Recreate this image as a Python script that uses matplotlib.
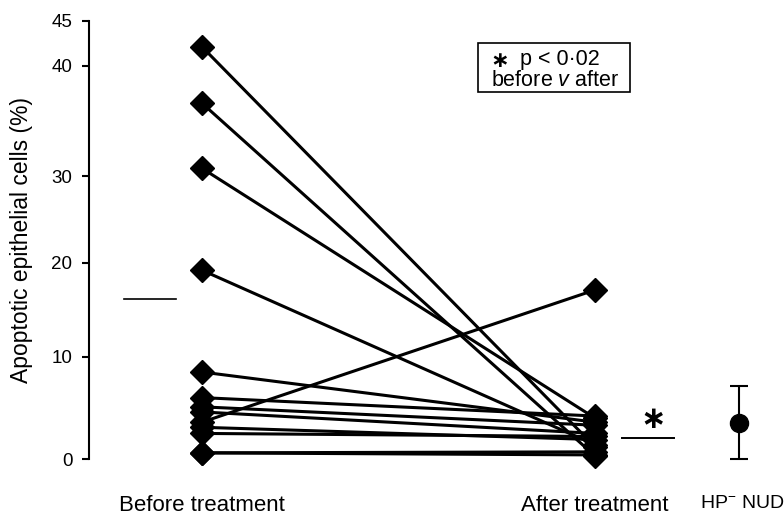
import numpy as np
import matplotlib
matplotlib.use("Agg")
import matplotlib.pyplot as plt
from matplotlib.patches import Rectangle
from matplotlib.transforms import ScaledTranslation

# ---- data ----
before = [42.1, 36.6, 30.7, 19.2, 8.5, 6.0, 5.1, 4.6, 3.6, 3.1, 2.5, 0.6, 0.6]
after = [1.2, 0.3, 4.0, 1.4, 3.6, 4.2, 3.3, 2.5, 17.1, 1.9, 2.2, 0.7, 0.4]
mean_before = 16.1
mean_after = 2.1
nud_mean = 3.5
nud_low = 0.0
nud_high = 7.1
group_labels = ["Before treatment", "After treatment", r"HP$^{-}$ NUD"]
ytick_values = [0, 10, 20, 30, 40, 45]

# the printed axis is slightly irregular; reproduce tick spacing with a piecewise scale
tick_offsets = [0, 102.3, 196.3, 283.0, 393.3, 438.3]

def fwd(v):
    return np.interp(v, ytick_values, tick_offsets)

def inv(p):
    return np.interp(p, tick_offsets, ytick_values)

plt.rcParams['font.family'] = ['Liberation Sans', 'DejaVu Sans']
plt.rcParams['mathtext.fontset'] = 'custom'
plt.rcParams['mathtext.rm'] = 'Liberation Sans'
plt.rcParams['mathtext.it'] = 'Liberation Sans:italic'

W, H = 784, 518
fig = plt.figure(figsize=(W / 100, H / 100), dpi=100)
left_px, right_px, top_px, bottom_px = 89, 784, 20.7, 459
ax = fig.add_axes([left_px / W, (H - bottom_px) / H, (right_px - left_px) / W, (bottom_px - top_px) / H])
ax.set_yscale('function', functions=(fwd, inv))
ax.set_ylim(0, 45)
x_before, x_after, x_nud = 1.0, 2.0, 2.366
ax.set_xlim(0.7125, 2.481)

for b, a in zip(before, after):
    ax.plot([x_before, x_after], [b, a], color='black', lw=2.2, marker='D', ms=12.5,
            clip_on=False, solid_capstyle='butt')

# mean lines
ax.plot([0.868 - 0.066, 0.868 + 0.066], [mean_before, mean_before], color='black', lw=1.2, clip_on=False)
ax.plot([2.135 - 0.066, 2.135 + 0.066], [mean_after, mean_after], color='black', lw=1.4, clip_on=False)
fig.text(653 / W, 1 - 420 / H, "\u2217", fontsize=22, fontweight='bold', family='DejaVu Sans',
         ha='center', va='center')

# HP- NUD
ax.errorbar([x_nud], [nud_mean], yerr=[[nud_mean - nud_low], [nud_high - nud_mean]],
            fmt='o', color='black', ms=13, capsize=6.5, elinewidth=1.5, capthick=1.5, clip_on=False)

# axes styling
for s in ['top', 'right', 'bottom']:
    ax.spines[s].set_visible(False)
ax.spines['left'].set_linewidth(1.5)
ax.set_yticks(ytick_values)
ax.set_yticklabels([str(v) for v in ytick_values])
ax.yaxis.set_minor_locator(matplotlib.ticker.NullLocator())
ax.tick_params(axis='y', length=5, width=1.5, pad=7, labelsize=13.5)
ax.set_xticks([x_before, x_after, x_nud])
ax.set_xticklabels(group_labels)
ax.tick_params(axis='x', length=0, pad=26, labelsize=16)
for lbl in ax.get_xticklabels():
    if 'NUD' in lbl.get_text():
        lbl.set_fontsize(14)
        lbl.set_transform(lbl.get_transform() + ScaledTranslation(0.03, 0, fig.dpi_scale_trans))
ax.set_ylabel("Apoptotic epithelial cells (%)", fontsize=16.5)
ax.yaxis.set_label_coords(-0.08, 0.5)

# annotation box
fig.patches.append(Rectangle((478 / W, 1 - 92 / H), (630 - 478) / W, (92 - 43) / H,
                             transform=fig.transFigure, fill=False, edgecolor='black', lw=1.2))
fig.text(500 / W, 1 - 61 / H, "\u2217", fontsize=16, fontweight='bold', family='DejaVu Sans',
         ha='center', va='center')
fig.text(520 / W, 1 - 65 / H, "p < 0\u00b702", fontsize=15.5, ha='left', va='baseline')
fig.text(491 / W, 1 - 86 / H, r"before $\mathit{v}$ after", fontsize=15.5, ha='left', va='baseline')

fig.savefig("out.png", dpi=100)
